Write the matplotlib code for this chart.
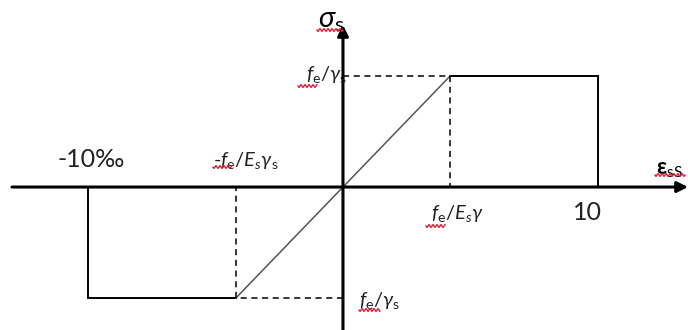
import numpy as np
import matplotlib
matplotlib.use("Agg")
import matplotlib.pyplot as plt

plt.rcParams['font.family'] = ['Lato', 'DejaVu Sans']
plt.rcParams['mathtext.fontset'] = 'custom'
plt.rcParams['mathtext.rm'] = 'Lato'
plt.rcParams['mathtext.it'] = 'Lato:italic'
plt.rcParams['mathtext.bf'] = 'Lato:bold'
plt.rcParams['mathtext.fallback'] = 'stixsans'

# --- data (strain in permille, stress normalised to fe/gamma_s) ---
eps_lim = 10.0          # ultimate strain 10 permille
eps_y = 4.2             # yield strain fe/(Es*gamma_s) (drawn, not to scale)
f_yd = 1.0              # design yield stress fe/gamma_s

plateau_eps_pos = [eps_y, eps_lim, eps_lim]
plateau_sig_pos = [f_yd, f_yd, 0.0]
plateau_eps_neg = [-eps_y, -eps_lim, -eps_lim]
plateau_sig_neg = [-f_yd, -f_yd, 0.0]
elastic_eps = [-eps_y, eps_y]
elastic_sig = [-f_yd, f_yd]

W, H = 688, 330
fig = plt.figure(figsize=(W / 100, H / 100), dpi=100)
ax = fig.add_axes([0, 0, 1, 1])
ax.set_xlim(-13.45, 13.53)
ax.set_ylim(-1.288, 1.685)
ax.axis('off')

# axes with arrows
ax.annotate('', xy=(13.53, 0), xytext=(-12.98, 0),
            arrowprops=dict(arrowstyle='-|>', color='black', lw=2.2,
                            mutation_scale=16, shrinkA=0, shrinkB=0))
ax.annotate('', xy=(0, 1.46), xytext=(0, -1.29),
            arrowprops=dict(arrowstyle='-|>', color='black', lw=2.2,
                            mutation_scale=16, shrinkA=0, shrinkB=0))

# plateaus
ax.plot(plateau_eps_pos, plateau_sig_pos, color='black', lw=1.4, solid_joinstyle='miter')
ax.plot(plateau_eps_neg, plateau_sig_neg, color='black', lw=1.4, solid_joinstyle='miter')
# elastic branch
ax.plot(elastic_eps, elastic_sig, color='#555555', lw=1.1)

# dashed projections
dash = dict(color='black', lw=1.1, linestyle=(0, (4, 3)))
ax.plot([0, eps_y], [f_yd, f_yd], **dash)
ax.plot([eps_y, eps_y], [f_yd, 0], **dash)
ax.plot([0, -eps_y], [-f_yd, -f_yd], **dash)
ax.plot([-eps_y, -eps_y], [-f_yd, 0], **dash)

lab = dict(color='#222222', fontsize=14.5)
num = dict(color='#222222', fontsize=18)

ax.text(-0.47, 1.50, r'$\sigma_{\mathrm{s}}$', ha='center', va='center', fontsize=21, color='black')
ax.text(0.15, f_yd + 0.01, r'$\mathit{f}_{\mathrm{e}}/\gamma_{\mathrm{s}}$', ha='right', va='center', **lab)
ax.text(0.63, -f_yd - 0.02, r'$\mathit{f}_{\mathrm{e}}/\gamma_{\mathrm{s}}$', ha='left', va='center', **lab)
ax.text(-eps_lim + 0.14, 0.25, '-10‰', ha='center', va='center', **num)
ax.text(-3.82, 0.24, r'-$\mathit{f}_{\mathrm{e}}/\mathit{E}_{s}\gamma_{\mathrm{s}}$', ha='center', va='center', **lab)
ax.text(4.5, -0.24, r'$\mathit{f}_{\mathrm{e}}/\mathit{E}_{s}\gamma$', ha='center', va='center', **lab)
ax.text(eps_lim - 0.41, -0.23, '10', ha='center', va='center', **num)
ax.text(12.8, 0.15, r'$\mathbf{\varepsilon}_{\mathrm{sS}}$', ha='center', va='center', fontsize=16, color='black')


# red wavy spell-check underlines (pixel positions, top-left origin)
def wavy(x0, x1, y):
    xs = np.linspace(x0, x1, 80)
    ys = y + 1.3 * np.sin((xs - x0) / 4.0 * 2 * np.pi)
    fig.add_artist(plt.Line2D(xs / W, 1 - ys / H, color='#e0203a', lw=1.0,
                              transform=fig.transFigure))


for x0, x1, y in [(317, 343, 30), (298, 317, 86), (213, 232, 167),
                  (426, 445, 226), (359, 380, 310), (655, 685, 175)]:
    wavy(x0, x1, y)

fig.savefig('out.png', dpi=100)
